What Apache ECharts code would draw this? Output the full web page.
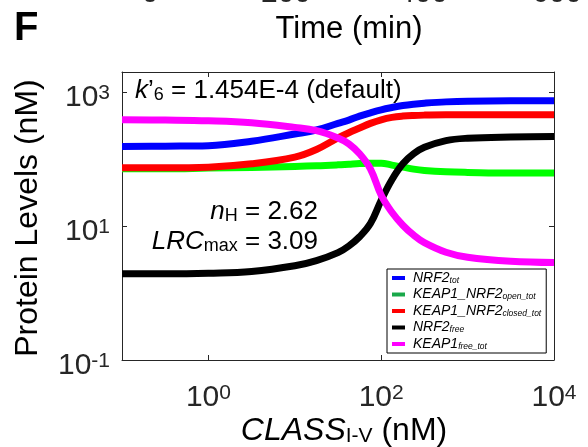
<!DOCTYPE html>
<html>
<head>
<meta charset="utf-8">
<script src="https://cdn.jsdelivr.net/npm/echarts@6/dist/echarts.min.js"></script>
<style>
  html, body { margin: 0; padding: 0; background: #fff; }
  #chart { width: 588px; height: 447px; }
</style>
</head>
<body>
<div id="chart"></div>
<script>
// CLASS I-V concentration (nM): shared x values for every curve
const classConc = [0.1, 0.316, 1, 3.16, 10, 17.8, 31.6, 42.2, 56.2, 75, 100, 133, 178, 237, 316, 562, 1000, 3160, 10000];

// Steady-state protein levels (nM)
const nrf2Tot        = [154, 156, 159, 185, 237, 272, 342, 383, 439, 492, 545, 590, 632, 662, 684, 716, 733, 741, 741];
const keapNrf2Open   = [71.7, 71.7, 73.4, 75.1, 77.6, 79.4, 82.2, 84.1, 86.0, 87.1, 87.1, 81.3, 75.9, 70.9, 67.8, 64.7, 63.3, 61.8, 61.8];
const keapNrf2Closed = [74.2, 74.2, 75.9, 85.1, 107, 139, 207, 248, 291, 342, 387, 420, 439, 449, 454, 459, 459, 459, 459];
const nrf2Free       = [1.94, 1.94, 1.98, 2.10, 2.55, 3.05, 4.01, 5.04, 6.93, 10.9, 24.3, 49.2, 85.1, 120, 150, 189, 205, 214, 217];
const keap1FreeTot   = [387, 383, 374, 350, 298, 266, 207, 169, 120, 71.7, 28.8, 16.1, 10.3, 7.34, 5.65, 4.06, 3.42, 2.98, 2.85];

// Axis ticks and labels (data space)
const xTickValues  = [1, 100];
const xLabelValues = [1, 100, 10000];
const yTickValues  = [10, 1000];
const yLabelValues = [0.1, 10, 1000];

// Tick labels of the panel above (only their lower edge shows)
const upperTimeLabels = ['0', '200', '400', '600'];

const FONT = '"Liberation Sans", Arial, sans-serif';
const AXIS_COLOR = '#262626';

const seriesDefs = [
  { name: 'NRF2_tot',              values: nrf2Tot,        color: '#0000FF', legendColor: '#0000FF', label: '{i|NRF2}{s|tot}' },
  { name: 'KEAP1_NRF2_open_tot',   values: keapNrf2Open,   color: '#00FF00', legendColor: '#1aa84a', label: '{i|KEAP1_NRF2}{s|open_tot}' },
  { name: 'KEAP1_NRF2_closed_tot', values: keapNrf2Closed, color: '#FF0000', legendColor: '#FF0000', label: '{i|KEAP1_NRF2}{s|closed_tot}' },
  { name: 'NRF2_free',             values: nrf2Free,       color: '#000000', legendColor: '#000000', label: '{i|NRF2}{s|free}' },
  { name: 'KEAP1_free_tot',        values: keap1FreeTot,   color: '#FF00FF', legendColor: '#FF00FF', label: '{i|KEAP1}{s|free_tot}' }
];

const expLabel = v => '{b|10}{s|' + Math.round(Math.log10(v)) + '}';
const tickRich = {
  b: { fontSize: 30, lineHeight: 30, fontFamily: FONT, color: AXIS_COLOR },
  s: { fontSize: 21, lineHeight: 6, verticalAlign: 'top', fontFamily: FONT, color: AXIS_COLOR }
};

const annRich = {
  a:   { fontSize: 26, lineHeight: 26, fontFamily: FONT, fill: '#000', color: '#000' },
  ai:  { fontSize: 26, lineHeight: 26, fontFamily: FONT, fontStyle: 'italic', fill: '#000', color: '#000' },
  sub: { fontSize: 18, lineHeight: 10, verticalAlign: 'bottom', fontFamily: FONT, fill: '#000', color: '#000' }
};

const titleRich = {
  c:  { fontSize: 32, lineHeight: 32, fontFamily: FONT, fill: '#000', color: '#000' },
  ci: { fontSize: 32, lineHeight: 32, fontFamily: FONT, fontStyle: 'italic', fill: '#000', color: '#000' },
  cs: { fontSize: 21, lineHeight: 18, verticalAlign: 'bottom', fontFamily: FONT, fill: '#000', color: '#000' }
};

function frameAxis(extra) {
  return Object.assign({
    type: 'log',
    logBase: 10,
    gridIndex: 0,
    axisLine: { show: true, onZero: false, lineStyle: { color: AXIS_COLOR, width: 1 } },
    splitLine: { show: false },
    minorTick: { show: false },
    minorSplitLine: { show: false }
  }, extra);
}

const chart = echarts.init(document.getElementById('chart'), null, { renderer: 'canvas' });

const labelMap = {};
seriesDefs.forEach(d => { labelMap[d.name] = d.label; });

const option = {
  animation: false,
  backgroundColor: '#fff',
  grid: { left: 122, right: 34, top: 72, bottom: 87, containLabel: false },
  xAxis: [
    frameAxis({
      min: 0.1, max: 10000, position: 'bottom',
      axisTick: { show: true, inside: true, length: 5, customValues: xTickValues, lineStyle: { color: AXIS_COLOR } },
      axisLabel: { show: true, customValues: xLabelValues, formatter: expLabel, margin: 23, rich: tickRich }
    }),
    frameAxis({
      min: 0.1, max: 10000, position: 'top',
      axisTick: { show: true, inside: true, length: 5, customValues: xTickValues, lineStyle: { color: AXIS_COLOR } },
      axisLabel: { show: false }
    })
  ],
  yAxis: [
    frameAxis({
      min: 0.1, max: 2000, position: 'left',
      axisTick: { show: true, inside: true, length: 5, customValues: yTickValues, lineStyle: { color: AXIS_COLOR } },
      axisLabel: { show: true, customValues: yLabelValues, formatter: expLabel, margin: 12, padding: [12, 0, 0, 0], rich: tickRich }
    }),
    frameAxis({
      min: 0.1, max: 2000, position: 'right',
      axisTick: { show: true, inside: true, length: 5, customValues: yTickValues, lineStyle: { color: AXIS_COLOR } },
      axisLabel: { show: false }
    })
  ],
  legend: {
    orient: 'vertical',
    left: 387,
    top: 269,
    padding: [2, 5, 2, 5],
    itemGap: 2.5,
    itemWidth: 13,
    itemHeight: 4,
    icon: 'rect',
    selectedMode: false,
    backgroundColor: '#fff',
    borderColor: '#000',
    borderWidth: 1,
    borderRadius: 0,
    data: seriesDefs.map(d => ({ name: d.name, itemStyle: { color: d.legendColor } })),
    formatter: name => labelMap[name],
    textStyle: {
      fontFamily: FONT,
      color: '#000',
      fontSize: 14,
      padding: [0, 0, 0, 3],
      rich: {
        i: { fontStyle: 'italic', fontSize: 14, lineHeight: 14, fontFamily: FONT, color: '#000' },
        s: { fontStyle: 'italic', fontSize: 8.5, lineHeight: 6, verticalAlign: 'bottom', fontFamily: FONT, color: '#000' }
      }
    }
  },
  series: seriesDefs.map(d => ({
    name: d.name,
    type: 'line',
    xAxisIndex: 0,
    yAxisIndex: 0,
    data: classConc.map((x, i) => [x, d.values[i]]),
    showSymbol: false,
    symbol: 'none',
    smooth: 0.4,
    lineStyle: { width: 7, color: d.color, cap: 'butt', join: 'round' },
    itemStyle: { color: d.color },
    emphasis: { disabled: true }
  })),
  graphic: [
    { type: 'text', x: 14, y: 29,
      style: { text: 'F', fontSize: 40, fontWeight: 'bold', fontFamily: FONT, fill: '#000', verticalAlign: 'middle', textVerticalAlign: 'middle' } },
    { type: 'text', x: 349, y: 29,
      style: { text: 'Time (min)', fontSize: 31, fontFamily: FONT, fill: '#000', textAlign: 'center', verticalAlign: 'middle', textVerticalAlign: 'middle' } },
    ...upperTimeLabels.map((t, i) => ({
      type: 'text', x: [150, 286, 423, 557][i], y: -6,
      style: { text: t, fontSize: 30, fontFamily: FONT, fill: AXIS_COLOR, textAlign: 'center', verticalAlign: 'middle', textVerticalAlign: 'middle' }
    })),
    { type: 'text', x: 28, y: 218, rotation: Math.PI / 2,
      style: { text: 'Protein Levels (nM)', fontSize: 32, fontFamily: FONT, fill: '#000', textAlign: 'center', verticalAlign: 'middle', textVerticalAlign: 'middle' } },
    { type: 'text', x: 344, y: 431,
      style: { text: '{ci|CLASS}{cs|I-V}{c| (nM)}', rich: titleRich, textAlign: 'center', verticalAlign: 'middle', textVerticalAlign: 'middle' } },
    { type: 'text', x: 135, y: 91,
      style: { text: '{ai|k}{a|’}{sub|6}{a| = 1.454E-4 (default)}', rich: annRich, textAlign: 'left', verticalAlign: 'middle', textVerticalAlign: 'middle' } },
    { type: 'text', x: 318, y: 212,
      style: { text: '{ai|n}{sub|H}{a| = 2.62}', rich: annRich, textAlign: 'right', verticalAlign: 'middle', textVerticalAlign: 'middle' } },
    { type: 'text', x: 318, y: 242,
      style: { text: '{ai|LRC}{sub|max}{a| = 3.09}', rich: annRich, textAlign: 'right', verticalAlign: 'middle', textVerticalAlign: 'middle' } }
  ]
};

chart.setOption(option);
</script>
</body>
</html>
